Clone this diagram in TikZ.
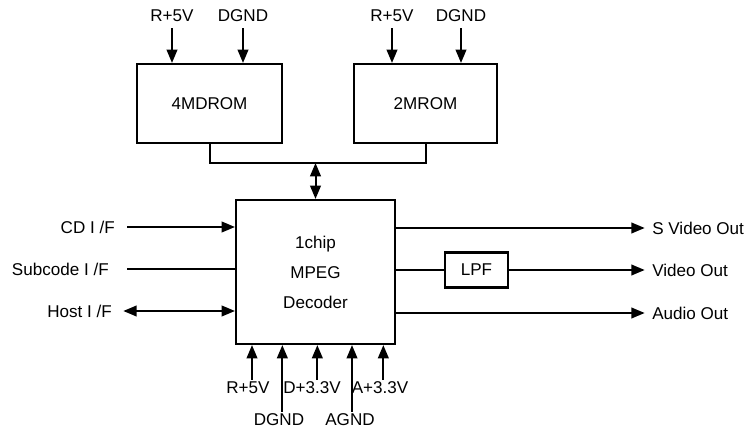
\documentclass[tikz,border=0pt]{standalone}
\usepackage{fontspec}
\setmainfont{Liberation Sans}
\usetikzlibrary{arrows.meta}

\tikzset{
  blk/.style={draw, line width=1.6pt, minimum width=#1},
  sig/.style={line width=1.5pt, -{Triangle[length=10pt,width=8pt]}},
  bisig/.style={line width=1.5pt, {Triangle[length=10pt,width=8pt]}-{Triangle[length=10pt,width=8pt]}},
  wire/.style={line width=1.5pt},
  lbl/.style={inner sep=1.5pt, font=\fontsize{12.8}{15}\selectfont}
}

\begin{document}
\begin{tikzpicture}[x=0.75pt,y=-0.75pt]
    \useasboundingbox (0,0) rectangle (746,434);

    %blocks
    \node[blk=108.75pt, minimum height=59.25pt, lbl] (rom4) at (209.5,103.5) {4MDROM};
    \node[blk=107.25pt, minimum height=59.25pt, lbl] (rom2) at (425.5,103.5) {2MROM};
    \node[blk=119.25pt, minimum height=108pt, lbl, align=center,
          font=\fontsize{12.8}{22.5}\selectfont] (dec) at (315.5,272) {1chip\\MPEG\\Decoder};
    \node[blk=47.25pt, minimum height=26.25pt, lbl] (lpf) at (476.5,270) {LPF};

    %rom supplies
    \node[lbl] (r4v) at (172,16) {R+5V};
    \node[lbl] (r4g) at (243,16) {DGND};
    \node[lbl] (r2v) at (392,16) {R+5V};
    \node[lbl] (r2g) at (461,16) {DGND};
    \foreach \n in {r4v,r4g}
      \draw[sig] ([yshift=-3pt]\n.south) -- (\n.south |- rom4.north);
    \foreach \n in {r2v,r2g}
      \draw[sig] ([yshift=-3pt]\n.south) -- (\n.south |- rom2.north);

    %bus
    \coordinate (bus) at (315.5,163);
    \draw[wire] (rom4.south) |- (bus) -| (rom2.south);
    \draw[bisig] (bus) -- (dec.north);

    %inputs
    \node[lbl, anchor=east] (cd) at (117,227) {CD I /F};
    \node[lbl, anchor=east] (sub) at (111,269) {Subcode I /F};
    \node[lbl, anchor=east] (host) at (114,311) {Host I /F};
    \draw[sig] (127,227) coordinate (cd0) -- (cd0 -| dec.west);
    \draw[wire] (127,269) coordinate (sub0) -- (sub0 -| dec.west);
    \draw[bisig] ([xshift=7pt]host.east) -- (host.east -| dec.west);

    %outputs
    \node[lbl, anchor=west] (svid) at (650,228) {S Video Out};
    \node[lbl, anchor=west] (vid) at (650,270) {Video Out};
    \node[lbl, anchor=west] (aud) at (650,313) {Audio Out};
    \draw[sig] (svid.west -| dec.east) -- ([xshift=-4pt]svid.west);
    \draw[wire] (lpf.west -| dec.east) -- (lpf.west);
    \draw[sig] (lpf.east) -- ([xshift=-4pt]vid.west |- lpf.east);
    \draw[sig] (aud.west -| dec.east) -- ([xshift=-4pt]aud.west);

    %decoder supplies
    \node[lbl] (dr5) at (248,388) {R+5V};
    \node[lbl] (dd33) at (312,388) {D+3.3V};
    \node[lbl] (da33) at (380,388) {A+3.3V};
    \node[lbl] (ddg) at (279,420) {DGND};
    \node[lbl] (dag) at (350,420) {AGND};
    \draw[sig] ([xshift=3pt]dr5.north) -- ([xshift=3pt]dr5.north |- dec.south);
    \draw[sig] ([xshift=4pt]dd33.north) -- ([xshift=4pt]dd33.north |- dec.south);
    \draw[sig] ([xshift=2.5pt]da33.north) -- ([xshift=2.5pt]da33.north |- dec.south);
    \draw[sig] ([xshift=2.5pt]ddg.north) -- ([xshift=2.5pt]ddg.north |- dec.south);
    \draw[sig] ([xshift=1.5pt]dag.north) -- ([xshift=1.5pt]dag.north |- dec.south);
\end{tikzpicture}
\end{document}
